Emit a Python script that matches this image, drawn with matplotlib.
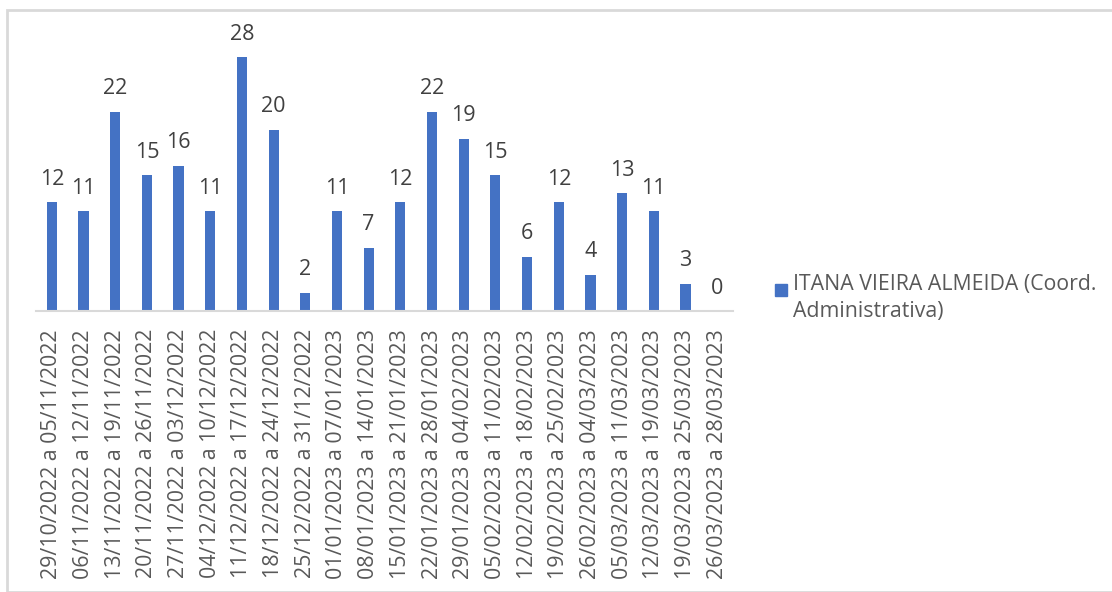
import matplotlib
matplotlib.use("Agg")
import matplotlib.pyplot as plt
from matplotlib.patches import Rectangle

plt.rcParams['font.family'] = ['Open Sans', 'DejaVu Sans']

# weekly periods and counts
periods = [
    "29/10/2022 a 05/11/2022", "06/11/2022 a 12/11/2022", "13/11/2022 a 19/11/2022",
    "20/11/2022 a 26/11/2022", "27/11/2022 a 03/12/2022", "04/12/2022 a 10/12/2022",
    "11/12/2022 a 17/12/2022", "18/12/2022 a 24/12/2022", "25/12/2022 a 31/12/2022",
    "01/01/2023 a 07/01/2023", "08/01/2023 a 14/01/2023", "15/01/2023 a 21/01/2023",
    "22/01/2023 a 28/01/2023", "29/01/2023 a 04/02/2023", "05/02/2023 a 11/02/2023",
    "12/02/2023 a 18/02/2023", "19/02/2023 a 25/02/2023", "26/02/2023 a 04/03/2023",
    "05/03/2023 a 11/03/2023", "12/03/2023 a 19/03/2023", "19/03/2023 a 25/03/2023",
    "26/03/2023 a 28/03/2023",
]
counts = [12, 11, 22, 15, 16, 11, 28, 20, 2, 11, 7, 12, 22, 19, 15, 6, 12, 4, 13, 11, 3, 0]
series_name = "ITANA VIEIRA ALMEIDA (Coord.\nAdministrativa)"

W, H = 1112, 592
fig = plt.figure(figsize=(W / 100, H / 100), dpi=100)

# outer chart border
fig.patches.append(Rectangle((7 / W, 0), 1.2, 1 - 9.5 / H, transform=fig.transFigure,
                             fill=False, edgecolor='#d9d9d9', linewidth=2))

ax = fig.add_axes([36 / W, 1 - 311 / H, (733 - 36) / W, (311 - 39) / H])
x = list(range(len(counts)))
bars = ax.bar(x, counts, width=0.32, color='#4472c4')
ax.bar_label(bars, labels=[str(c) for c in counts], padding=9, fontsize=15.5, color='#404040')

ax.set_xlim(-0.5, len(counts) - 0.5)
ax.set_ylim(0, 30)
ax.set_xticks(x)
ax.set_xticklabels(periods, rotation=90, fontsize=15.4, color='#595959')
ax.tick_params(axis='x', length=0, pad=13)
ax.set_yticks([])
for s in ['top', 'right', 'left']:
    ax.spines[s].set_visible(False)
ax.spines['bottom'].set_color('#d9d9d9')
ax.spines['bottom'].set_linewidth(1.5)

# legend
fig.patches.append(Rectangle((775 / W, 1 - 296 / H), 12 / W, 12 / H, transform=fig.transFigure,
                             color='#4472c4'))
fig.text(793 / W, 1 - 274 / H, series_name, fontsize=15.3, color='#595959',
         va='top', ha='left', linespacing=1.4)

fig.savefig("out.png", dpi=100)
